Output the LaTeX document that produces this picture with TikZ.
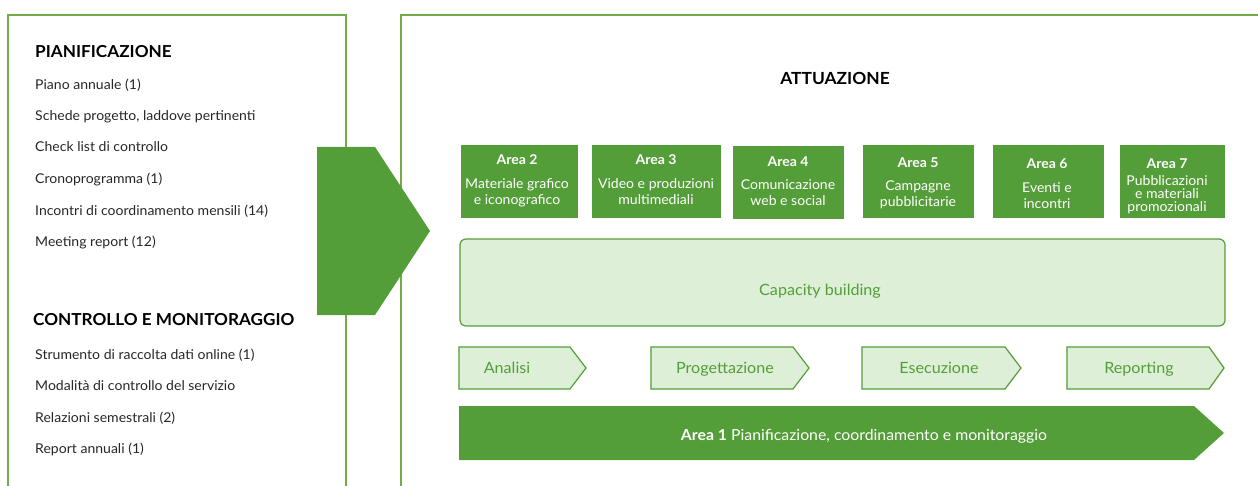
\documentclass[tikz,border=0pt]{standalone}
\usepackage{fontspec}
\setmainfont{Lato}[FakeStretch=1.04]
\definecolor{dg}{HTML}{549E39}
\definecolor{lg}{HTML}{DDEFD6}
\definecolor{bd}{HTML}{70AD47}
\begin{document}
\begin{tikzpicture}[x=1pt,y=-1pt,
  panel/.style={draw=bd,line width=1.8pt},
  head/.style={anchor=base west,inner sep=0pt,font=\fontsize{16.5}{18}\selectfont\bfseries},
  item/.style={anchor=base west,inner sep=0pt,text=black!85,font=\fontsize{13.5}{15}\selectfont},
  areabox/.style={fill=dg,inner sep=0pt,minimum height=73pt},
  atitle/.style={anchor=base,inner sep=0pt,text=white,font=\fontsize{13.5}{15}\selectfont\bfseries},
  aline/.style={anchor=base,inner sep=0pt,text=white,font=\fontsize{13.5}{15}\selectfont},
  chev/.style={draw=dg,fill=lg,line width=1.2pt},
  chevtext/.style={anchor=base,text=dg,inner sep=0pt,font=\fontsize{15.5}{17}\selectfont}]
\useasboundingbox (0,0) rectangle (1258,486);
% panels
\draw[panel] (8,486) -- (8,15) -- (346,15) -- (346,486);
\draw[panel] (1258,15) -- (401,15) -- (401,486);
% big arrow
\fill[dg] (317,147) -- (375,147) -- (430,231) -- (375,315) -- (317,315) -- cycle;
% left texts
\node[head] (hp) at (35,57.3) {PIANIFICAZIONE};
\node[item] (p1) at (35,89.3) {Piano annuale (1)};
\node[item] (p2) at (35,121) {Schede progetto, laddove pertinenti};
\node[item] (p3) at (35,152) {Check list di controllo};
\node[item] (p4) at (35,184) {Cronoprogramma (1)};
\node[item] (p5) at (35,216) {Incontri di coordinamento mensili (14)};
\node[item] (p6) at (35,246.7) {Meeting report (12)};
\node[head] (hc) at (33,325.7) {CONTROLLO E MONITORAGGIO};
\node[item] (c1) at (35,359.3) {Strumento di raccolta dati online (1)};
\node[item] (c2) at (35,390.7) {Modalità di controllo del servizio};
\node[item] (c3) at (35,422.3) {Relazioni semestrali (2)};
\node[item] (c4) at (35,453.3) {Report annuali (1)};
% title
\node[anchor=base,inner sep=0pt,font=\fontsize{16.7}{18}\selectfont\bfseries] (att) at (835,85) {ATTUAZIONE};
% area boxes
\node[areabox,minimum width=117pt] (a2) at (519.5,181.5) {};
\node[areabox,minimum width=129pt] (a3) at (656.5,181.5) {};
\node[areabox,minimum width=111pt] (a4) at (788.5,182.5) {};
\node[areabox,minimum width=111pt] (a5) at (918.5,181.5) {};
\node[areabox,minimum width=111pt] (a6) at (1048.5,181.5) {};
\node[areabox,minimum width=105pt] (a7) at (1172.5,181.5) {};
\node[atitle] (a2t) at (517,164.3) {Area 2};
\node[aline] (a2a) at (517,188.3) {Materiale grafico};
\node[aline] (a2b) at (517,205) {e iconografico};
\node[atitle] (a3t) at (656,164.3) {Area 3};
\node[aline] (a3a) at (656,188.3) {Video e produzioni};
\node[aline] (a3b) at (656,205) {multimediali};
\node[atitle] (a4t) at (788,166.7) {Area 4};
\node[aline] (a4a) at (788,189.3) {Comunicazione};
\node[aline] (a4b) at (788,206) {web e social};
\node[atitle] (a5t) at (918,167.3) {Area 5};
\node[aline] (a5a) at (918,190.3) {Campagne};
\node[aline] (a5b) at (918,206.7) {pubblicitarie};
\node[atitle] (a6t) at (1047,169) {Area 6};
\node[aline] (a6a) at (1047,192.7) {Eventi e};
\node[aline] (a6b) at (1047,209) {incontri};
\node[atitle] (a7t) at (1167,169) {Area 7};
\node[aline] (a7a) at (1167,185.3) {Pubblicazioni};
\node[aline] (a7b) at (1167,198.7) {e materiali};
\node[aline] (a7c) at (1167,212) {promozionali};
% capacity building
\node[draw=dg,fill=lg,line width=1.2pt,rounded corners=6pt,minimum width=765pt,minimum height=87pt] (cb) at (842.5,282.5) {};
\node[chevtext] (cbt) at (820,295) {Capacity building};
% chevrons
\draw[chev] (459,347) -- (570,347) -- (586,368) -- (570,389) -- (459,389) -- cycle;
\draw[chev] (651,347) -- (793,347) -- (809,368) -- (793,389) -- (651,389) -- cycle;
\draw[chev] (862,347) -- (1005,347) -- (1021,368) -- (1005,389) -- (862,389) -- cycle;
\draw[chev] (1067,347) -- (1209,347) -- (1224,368) -- (1209,389) -- (1067,389) -- cycle;
\node[chevtext] (an) at (507,373.3) {Analisi};
\node[chevtext] (pr) at (725,373.3) {Progettazione};
\node[chevtext] (es) at (939,373.3) {Esecuzione};
\node[chevtext] (re) at (1139,373.3) {Reporting};
% bottom arrow
\fill[dg] (459,406) -- (1194,406) -- (1224,433) -- (1194,460) -- (459,460) -- cycle;
\node[anchor=base,text=white,inner sep=0pt,font=\fontsize{15.2}{17}\selectfont] (a1) at (864,440) {\textbf{Area 1} Pianificazione, coordinamento e monitoraggio};
\end{tikzpicture}
\end{document}
